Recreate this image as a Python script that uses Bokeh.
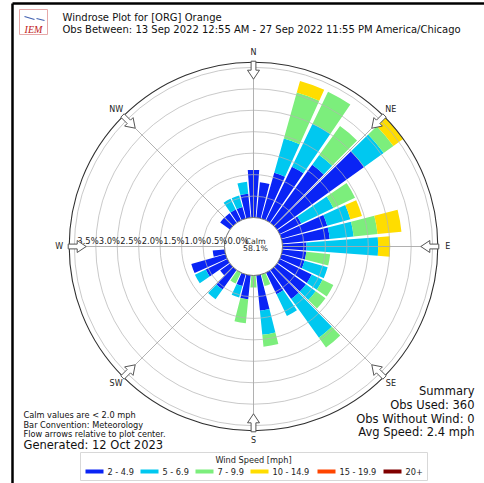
import math
from bokeh.plotting import figure
from bokeh.models import Range1d, ColumnDataSource
from bokeh.core.properties import value
from bokeh.embed import file_html
from bokeh.resources import INLINE

# ---------------- data ----------------
directions = [0, 10, 20, 30, 40, 50, 60, 70, 80, 90, 100, 110, 120, 130, 140, 150, 160, 170,
              180, 190, 200, 210, 220, 230, 240, 250, 260, 270, 280, 290, 300, 310, 320, 330, 340, 350]
speed_bins = ["2 - 4.9", "5 - 6.9", "7 - 9.9", "10 - 14.9", "15 - 19.9", "20+"]
bin_colors = ["#0a24f5", "#00c8f0", "#7cee7c", "#ffdd00", "#ff4500", "#800000"]
pct_2_5 = [1.11, 0.83, 1.11, 1.39, 1.67, 2.50, 0.56, 1.11, 1.11, 0.56, 0.56, 0.56, 0.83, 0.83, 0.83, 0.56, 0.00, 0.83,
           0.00, 0.56, 0.28, 0.00, 0.56, 0.28, 0.56, 0.83, 0.28, 0.00, 0.00, 0.00, 0.00, 0.28, 0.28, 0.28, 0.28, 0.56]
pct_5_7 = [0.00, 0.00, 0.83, 1.11, 0.28, 0.56, 0.83, 0.56, 0.56, 1.67, 0.00, 0.56, 0.28, 0.28, 1.11, 0.56, 0.00, 0.56,
           0.00, 0.00, 0.28, 0.00, 0.28, 0.00, 0.28, 0.00, 0.00, 0.00, 0.00, 0.00, 0.00, 0.00, 0.00, 0.28, 0.28, 0.28]
pct_7_10 = [0.00, 0.00, 1.11, 0.83, 0.83, 0.28, 0.56, 0.00, 0.56, 0.00, 0.56, 0.00, 0.28, 0.28, 0.28, 0.00, 0.28, 0.28,
            0.28, 0.56, 0.00, 0.28, 0.00, 0.00, 0.00, 0.00, 0.00, 0.00, 0.00, 0.00, 0.00, 0.00, 0.00, 0.00, 0.00, 0.00]
pct_10_15 = [0.00, 0.00, 0.28, 0.00, 0.00, 0.28, 0.00, 0.28, 0.56, 0.28, 0.00, 0.00, 0.00, 0.00, 0.00, 0.00, 0.00, 0.00,
             0.00, 0.00, 0.00, 0.00, 0.00, 0.00, 0.00, 0.00, 0.00, 0.00, 0.00, 0.00, 0.00, 0.00, 0.00, 0.00, 0.00, 0.00]
pct_15_20 = [0.0] * 36
pct_20_up = [0.0] * 36
ring_values = [0.0, 0.5, 1.0, 1.5, 2.0, 2.5, 3.0, 3.5]
ring_labels = ["0.0%", "0.5%", "1.0%", "1.5%", "2.0%", "2.5%", "3.0%", "3.5%"]
compass_angles = [0, 45, 90, 135, 180, 225, 270, 315]
compass_labels = ["N", "NE", "E", "SE", "S", "SW", "W", "NW"]
calm_pct = 58.1
obs_used = 360
obs_without_wind = 0
avg_speed = 2.4
calm_limit = 2.0
title1 = "Windrose Plot for [ORG] Orange"
title2 = "Obs Between: 13 Sep 2022 12:55 AM - 27 Sep 2022 11:55 PM America/Chicago"
generated = "Generated: 12 Oct 2023"

# ---------------- layout ----------------
PAGE = 0
W, H = 484, 483
IMG_H = 483
FONT = value("DejaVu Sans")


def Y(s):
    return IMG_H - s


CX, CY = 253, Y(246)
R0 = 29.0          # calm hole radius (px)
K = 42.9           # px per percent
BAR_W = 8.6        # degrees

p = figure(width=W, height=H, x_range=Range1d(PAGE, PAGE + W), y_range=Range1d(IMG_H - PAGE - H, IMG_H - PAGE),
           output_backend="svg", toolbar_location=None, x_axis_type=None, y_axis_type=None, min_border=0)
p.grid.visible = False
p.outline_line_color = None
p.background_fill_color = "white"
p.border_fill_color = "white"

# bars
series = [pct_2_5, pct_5_7, pct_7_10, pct_10_15, pct_15_20, pct_20_up]
cum = [0.0] * len(directions)
rec = dict(inner=[], outer=[], start=[], end=[], color=[])
for vals, col in zip(series, bin_colors):
    for i, d in enumerate(directions):
        v = vals[i]
        if v > 0:
            a = 90 - d
            rec["inner"].append(R0 + K * cum[i])
            rec["outer"].append(R0 + K * (cum[i] + v))
            rec["start"].append(math.radians(a - BAR_W / 2))
            rec["end"].append(math.radians(a + BAR_W / 2))
            rec["color"].append(col)
            cum[i] += v
rmax = max(cum)
R_OUT = R0 + K * rmax

p.annular_wedge(x=CX, y=CY, inner_radius="inner", outer_radius="outer", start_angle="start", end_angle="end",
                fill_color="color", line_color=None, source=ColumnDataSource(rec))

# rings
ring_r = [R0 + K * v for v in ring_values[1:]]
p.circle(x=[CX] * len(ring_r), y=[CY] * len(ring_r), radius=ring_r, fill_color=None,
         line_color="#b4b4b4", line_width=0.9, line_alpha=0.8)

# spokes
sx0, sy0, sx1, sy1 = [], [], [], []
for a in compass_angles:
    t = math.radians(a)
    sx0.append(CX + R0 * math.sin(t)); sy0.append(CY + R0 * math.cos(t))
    sx1.append(CX + R_OUT * math.sin(t)); sy1.append(CY + R_OUT * math.cos(t))
p.segment(x0=sx0, y0=sy0, x1=sx1, y1=sy1, line_color="#a8a8a8", line_width=1, line_alpha=0.9)

# outer circle and calm circle
p.circle(x=[CX], y=[CY], radius=[R_OUT], fill_color=None, line_color="#303030", line_width=1.1)
p.circle(x=[CX], y=[CY], radius=[R0], fill_color="white", line_color="#707070", line_width=1)

# radial labels
p.text(x=[CX - (R0 + K * v) for v in ring_values], y=[CY + 1] * len(ring_values), text=ring_labels,
       text_font=FONT, text_font_size="8.4px", text_color="#222222", text_align="left",
       text_baseline="bottom", x_offset=3)
p.text(x=[CX + 2, CX + 2], y=[CY + 5, CY - 2], text=["Calm", f"{calm_pct:.1f}%"], text_font=FONT,
       text_font_size="7.8px", text_color="#222222", text_align="center", text_baseline="middle")

# arrows (flow relative to plot center)
shape = [(R_OUT + 1, -2.4), (R_OUT - 8, -2.4), (R_OUT - 8, -6), (R_OUT - 17, 0),
         (R_OUT - 8, 6), (R_OUT - 8, 2.4), (R_OUT + 1, 2.4)]
axs, ays = [], []
for a in compass_angles:
    t = math.radians(a)
    ux, uy = math.sin(t), math.cos(t)
    vx, vy = math.cos(t), -math.sin(t)
    axs.append([CX + r * ux + s * vx for r, s in shape])
    ays.append([CY + r * uy + s * vy for r, s in shape])
p.patches(xs=axs, ys=ays, fill_color="white", line_color="#555555", line_width=1)

# compass labels
R_LAB = R_OUT + 10
p.text(x=[CX + R_LAB * math.sin(math.radians(a)) for a in compass_angles],
       y=[CY + R_LAB * math.cos(math.radians(a)) for a in compass_angles], text=compass_labels,
       text_font=FONT, text_font_size="8px", text_color="#222222", text_align="center", text_baseline="middle")

# header
p.text(x=[62, 62], y=[Y(17), Y(29)], text=[title1, title2], text_font=FONT, text_font_size="10px",
       text_color="#111111", text_align="left", text_baseline="middle")
p.quad(left=[19], right=[47], bottom=[Y(34)], top=[Y(9)], fill_color=None, line_color="#e6a8a8", line_width=1)
p.text(x=[33], y=[Y(29)], text=["IEM"], text_font=value("Liberation Serif"), text_font_style="italic",
       text_font_size="10px", text_color="#c01818", text_align="center", text_baseline="middle")
p.segment(x0=[24, 36], y0=[Y(16), Y(18)], x1=[34, 44], y1=[Y(19), Y(20)], line_color="#4060b0", line_width=1.2)

# footnotes
p.text(x=[23, 23, 23], y=[Y(414), Y(424), Y(433)],
       text=[f"Calm values are < {calm_limit:.1f} mph", "Bar Convention: Meteorology",
             "Flow arrows relative to plot center."],
       text_font=FONT, text_font_size="8.2px", text_color="#111111", text_align="left", text_baseline="middle")
p.text(x=[23], y=[Y(444)], text=[generated], text_font=FONT, text_font_size="11.5px", text_color="#111111",
       text_align="left", text_baseline="middle")

# summary
p.text(x=[474] * 4, y=[Y(390), Y(404), Y(418), Y(431)],
       text=["Summary", f"Obs Used: {obs_used}", f"Obs Without Wind: {obs_without_wind}",
             f"Avg Speed: {avg_speed:.1f} mph"],
       text_font=FONT, text_font_size="11.5px", text_color="#111111", text_align="right", text_baseline="middle")

# legend
p.quad(left=[80], right=[427], bottom=[Y(480)], top=[Y(452)], fill_color="white", line_color="#d8d8d8",
       line_width=1)
p.text(x=[253], y=[Y(459)], text=["Wind Speed [mph]"], text_font=FONT, text_font_size="8.2px",
       text_color="#222222", text_align="center", text_baseline="middle")
leg_x = [85, 140, 195, 250, 317, 383]
p.segment(x0=leg_x, y0=[Y(471)] * 6, x1=[x + 18 for x in leg_x], y1=[Y(471)] * 6, line_color=bin_colors,
          line_width=4)
p.text(x=[x + 22 for x in leg_x], y=[Y(471)] * 6, text=speed_bins, text_font=FONT, text_font_size="8.2px",
       text_color="#222222", text_align="left", text_baseline="middle")

# frame edges of the original picture
p.segment(x0=[12, 12], y0=[Y(3), Y(3)], x1=[484, 12], y1=[Y(3), Y(483)], line_color="black", line_width=2.5)

open("out.html", "w").write(file_html(p, INLINE))
